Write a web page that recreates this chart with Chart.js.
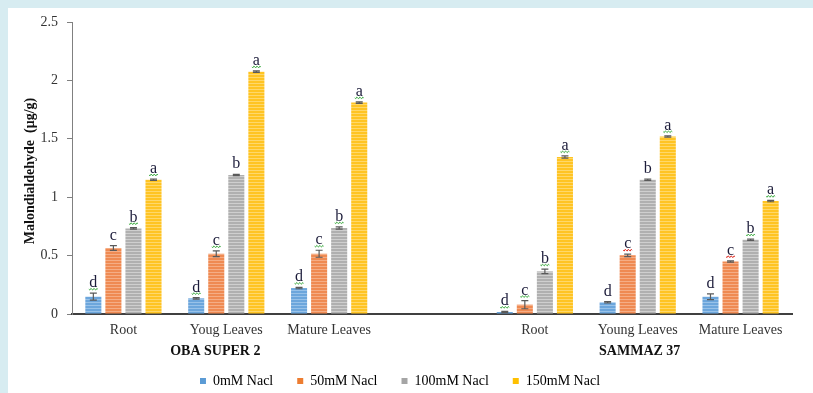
<!DOCTYPE html>
<html>
<head>
<meta charset="utf-8">
<script src="https://cdn.jsdelivr.net/npm/chart.js@4/dist/chart.umd.min.js"></script>
<style>
  html, body { margin: 0; padding: 0; background: #ffffff; }
  #wrap { width: 813px; height: 393px; position: relative; }
</style>
</head>
<body>
<div id="wrap"><canvas id="chart" width="813" height="393"></canvas></div>
<script>
// Malondialdehyde content by tissue and salt level for two varieties
const categories = ['Root', 'Youg Leaves', 'Mature Leaves', '', 'Root', 'Young Leaves', 'Mature Leaves'];
const groupNames = ['OBA SUPER 2', 'SAMMAZ 37'];
const groupMiddle = [1, 5];            // category index each variety label sits under
const seriesNames = ['0mM Nacl', '50mM Nacl', '100mM Nacl', '150mM Nacl'];

const nacl0   = [0.148, 0.134, 0.222, null, 0.017, 0.100, 0.148];
const nacl50  = [0.565, 0.516, 0.516, null, 0.080, 0.502, 0.450];
const nacl100 = [0.733, 1.190, 0.736, null, 0.365, 1.150, 0.636];
const nacl150 = [1.150, 2.075, 1.810, null, 1.344, 1.520, 0.967];

// standard errors
const err0   = [0.030, 0.006, 0.006, null, 0.006, 0.006, 0.025];
const err50  = [0.020, 0.025, 0.030, null, 0.035, 0.010, 0.006];
const err100 = [0.006, 0.006, 0.010, null, 0.020, 0.006, 0.006];
const err150 = [0.006, 0.006, 0.006, null, 0.010, 0.006, 0.006];

// significance letters per salt level
const letters = ['d', 'c', 'b', 'a'];
// wavy underline colour under each letter: g = green, r = red, '' = none
const marks0   = ['g', 'g', 'g', null, 'g', '', ''];
const marks50  = ['', 'g', 'g', null, 'g', 'r', 'r'];
const marks100 = ['g', '', 'g', null, 'g', '', 'g'];
const marks150 = ['g', 'g', 'g', null, 'g', 'g', 'g'];

const yMin = 0, yMax = 2.5, yStep = 0.5;
const yTitle = 'Malondialdehyde  (\u03bcg/g)';

const values = [nacl0, nacl50, nacl100, nacl150];
const errors = [err0, err50, err100, err150];
const marks = [marks0, marks50, marks100, marks150];

const baseColors  = ['#6ca6dc', '#ef8a52', '#b0b0b0', '#ffc423'];
const stripeColors = ['#98c2e9', '#f5ad85', '#cfcfcf', '#ffd86a'];
const legendColors = ['#5b9bd5', '#ed7d31', '#a5a5a5', '#ffc000'];

const canvas = document.getElementById('chart');
const ctx = canvas.getContext('2d');

function stripes(base, light) {
  const p = document.createElement('canvas');
  p.width = 4; p.height = 3;
  const g = p.getContext('2d');
  g.fillStyle = base; g.fillRect(0, 0, 4, 3);
  g.fillStyle = light; g.fillRect(0, 2, 4, 1);
  return ctx.createPattern(p, 'repeat');
}

const SERIF = '"Liberation Serif", "Times New Roman", serif';

const backdrop = {
  id: 'backdrop',
  beforeDraw(chart) {
    const c = chart.ctx;
    c.save();
    c.fillStyle = '#ffffff';
    c.fillRect(0, 0, chart.width, chart.height);
    c.fillStyle = '#d7ecf1';
    c.fillRect(0, 0, chart.width, 8);
    c.fillRect(0, 0, 8, chart.height);
    c.restore();
  }
};

const legendShift = {
  id: 'legendShift',
  afterLayout(chart) {
    chart.legend.top += 5;
    chart.legend.bottom += 5;
  }
};

function squiggle(c, x, y, w, color) {
  c.save();
  c.strokeStyle = color;
  c.lineWidth = 1;
  c.beginPath();
  const x0 = x - w / 2;
  for (let i = 0; i <= w; i++) {
    const yy = y + Math.sin(i * Math.PI / 1.5) * 1;
    if (i === 0) c.moveTo(x0 + i, yy); else c.lineTo(x0 + i, yy);
  }
  c.stroke();
  c.restore();
}

const annotations = {
  id: 'annotations',
  afterDatasetsDraw(chart) {
    const c = chart.ctx;
    const y = chart.scales.y;
    chart.data.datasets.forEach((ds, i) => {
      const meta = chart.getDatasetMeta(i);
      meta.data.forEach((bar, j) => {
        const v = values[i][j];
        if (v === null) return;
        const e = errors[i][j];
        const x = bar.x;
        const yTop = y.getPixelForValue(v + e);
        const yBot = y.getPixelForValue(Math.max(0, v - e));
        c.save();
        c.strokeStyle = '#5a5a5a';
        c.lineWidth = 1.2;
        c.beginPath();
        c.moveTo(x, yTop); c.lineTo(x, yBot);
        c.moveTo(x - 3.5, yTop); c.lineTo(x + 3.5, yTop);
        c.moveTo(x - 3.5, yBot); c.lineTo(x + 3.5, yBot);
        c.stroke();
        c.fillStyle = '#1c1c3a';
        c.font = '16px ' + SERIF;
        c.textAlign = 'center';
        c.textBaseline = 'alphabetic';
        c.fillText(letters[i], x, yTop - 6);
        c.restore();
        const m = marks[i][j];
        if (m) squiggle(c, x, yTop - 4, 9, m === 'r' ? '#e0332a' : '#46b04a');
      });
    });

    // variety labels under the category names
    const xs = chart.scales.x;
    c.save();
    c.fillStyle = '#111111';
    c.font = 'bold 14px ' + SERIF;
    c.textAlign = 'center';
    c.textBaseline = 'middle';
    groupNames.forEach((name, k) => {
      const off = k === 0 ? -11 : 2;
      c.fillText(name, xs.getPixelForValue(groupMiddle[k]) + off, 351);
    });
    // y axis title
    c.translate(30, (chart.chartArea.top + chart.chartArea.bottom) / 2 + 3);
    c.rotate(-Math.PI / 2);
    c.fillStyle = '#111111';
    c.font = 'bold 14px ' + SERIF;
    c.fillText(yTitle, 0, 0);
    c.restore();
  }
};

new Chart(ctx, {
  type: 'bar',
  data: {
    labels: categories,
    datasets: seriesNames.map((name, i) => ({
      label: name,
      data: values[i],
      backgroundColor: stripes(baseColors[i], stripeColors[i]),
      borderWidth: 0,
      barPercentage: 0.8,
      categoryPercentage: 0.78
    }))
  },
  options: {
    responsive: false,
    animation: false,
    layout: { padding: { left: 8, top: 22, right: 21, bottom: 0 } },
    scales: {
      x: {
        grid: { display: false, drawTicks: false },
        border: { display: true, color: '#404040', width: 2 },
        ticks: {
          color: '#333333',
          font: { family: SERIF, size: 14 },
          padding: 8,
          maxRotation: 0,
          autoSkip: false
        },
        afterFit(scale) { scale.height = 31; }
      },
      y: {
        min: yMin,
        max: yMax,
        ticks: {
          stepSize: yStep,
          color: '#333333',
          font: { family: SERIF, size: 14 },
          padding: 9,
          callback: (v) => String(Math.round(v * 10) / 10)
        },
        grid: { display: true, drawOnChartArea: false, drawTicks: true, tickLength: 5, color: '#808080' },
        border: { display: true, color: '#808080', width: 1 },
        afterFit(scale) { scale.width = 64; }
      }
    },
    plugins: {
      legend: {
        position: 'bottom',
        labels: {
          boxWidth: 6,
          boxHeight: 6,
          padding: 24,
          color: '#333333',
          font: { family: SERIF, size: 14 },
          generateLabels(chart) {
            return seriesNames.map((name, i) => ({
              text: name,
              fillStyle: legendColors[i],
              strokeStyle: legendColors[i],
              lineWidth: 0,
              hidden: false,
              datasetIndex: i
            }));
          }
        }
      },
      tooltip: { enabled: false }
    }
  },
  plugins: [backdrop, legendShift, annotations]
});
</script>
</body>
</html>
